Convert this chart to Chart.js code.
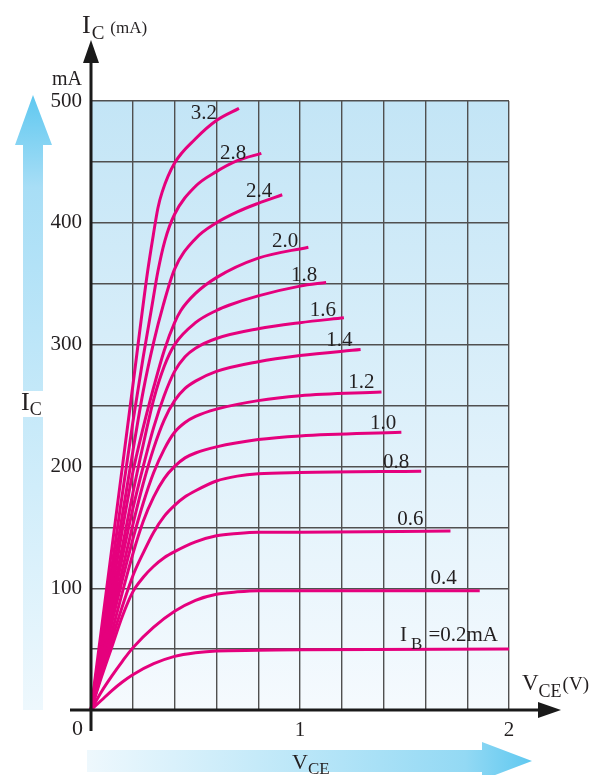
<!DOCTYPE html>
<html><head><meta charset="utf-8">
<script src="https://cdn.jsdelivr.net/npm/chart.js@4/dist/chart.umd.min.js"></script>
<style>html,body{margin:0;padding:0;background:#fff;}canvas{display:block;}</style>
</head><body>
<canvas id="c" width="608" height="775"></canvas>
<script>
// ---- data ----
const ibLabels = ['0.2','0.4','0.6','0.8','1.0','1.2','1.4','1.6','1.8','2.0','2.4','2.8','3.2'];

const vce_02 = [0,0.05,0.1,0.15,0.2,0.3,0.4,0.5,0.6,0.8,1.0,2.0];
const ic_02  = [0,8,16,23,29,38,44,47,48.5,49,49.5,50];
const vce_04 = [0,0.05,0.1,0.15,0.2,0.3,0.4,0.5,0.6,0.7,0.8,1.0,1.86];
const ic_04  = [0,15,28,40,51,68,81,90,95,97,98,98,98];
const vce_06 = [0,0.05,0.1,0.15,0.2,0.25,0.3,0.35,0.4,0.5,0.6,0.7,0.8,1.0,1.72];
const ic_06  = [0,27,52,77,97,109,118,125,130,138,143,145,146,146,147];
const vce_08 = [0,0.1,0.2,0.25,0.3,0.35,0.4,0.45,0.5,0.6,0.7,0.8,1.0,1.58];
const ic_08  = [0,58,110,129,146,159,168,175,180,188,192,194,195,196];
const vce_10 = [0,0.1,0.2,0.25,0.3,0.35,0.4,0.45,0.5,0.6,0.8,1.0,1.485];
const ic_10  = [0,64,128,155,175,190,200,207,211,216,222,225,228];
const vce_12 = [0,0.1,0.2,0.25,0.3,0.35,0.4,0.45,0.5,0.6,0.8,1.0,1.39];
const ic_12  = [0,72,140,170,195,214,228,236,241,247,254,258,261];
const vce_14 = [0,0.1,0.2,0.25,0.3,0.35,0.4,0.45,0.5,0.6,0.8,1.0,1.29];
const ic_14  = [0,78,152,186,215,238,254,264,270,278,286,291,296];
const vce_16 = [0,0.1,0.2,0.25,0.3,0.35,0.4,0.45,0.5,0.6,0.8,1.0,1.21];
const ic_16  = [0,84,165,200,232,258,278,290,297,305,313,318,322];
const vce_18 = [0,0.1,0.2,0.25,0.3,0.35,0.4,0.5,0.6,0.663,0.8,1.0,1.125];
const ic_18  = [0,90,178,218,255,282,300,318,328,332.5,340,348,351];
const vce_20 = [0,0.1,0.2,0.25,0.3,0.35,0.4,0.43,0.5,0.6,0.8,1.04];
const ic_20  = [0,98,195,232,265,295,318,328,342,355,371,380];
const vce_24 = [0,0.1,0.2,0.25,0.3,0.345,0.4,0.5,0.6,0.7,0.8,0.915];
const ic_24  = [0,108,212,262,302,332,362,387,400,409,416,423];
const vce_28 = [0,0.1,0.2,0.25,0.29,0.32,0.353,0.4,0.5,0.6,0.7,0.815];
const ic_28  = [0,118,236,290,330,360,385,407,430,442,451,457];
const vce_32 = [0,0.1,0.2,0.27,0.3,0.32,0.34,0.4,0.5,0.6,0.708];
const ic_32  = [0,133,266,359,392,412,425,449,469,484,494];

const vceSeries = [vce_02,vce_04,vce_06,vce_08,vce_10,vce_12,vce_14,vce_16,vce_18,vce_20,vce_24,vce_28,vce_32];
const icSeries  = [ic_02,ic_04,ic_06,ic_08,ic_10,ic_12,ic_14,ic_16,ic_18,ic_20,ic_24,ic_28,ic_32];

const xTickLabels = ['1','2'];
const yTickLabels = ['100','200','300','400','500'];

// ---- style ----
const labelOffsets = [[-11,-8],[-23,-7],[-27,-6],[-12,-3],[-5,-3],[-7,-4],[-8,-3],[-8,-2],[-9,-1],[-10,0],[-10,2],[-15,6],[-22,11]];
const SERIF = '"Liberation Serif","DejaVu Serif","Times New Roman",serif';
const TXT = '#231f20';
const CURVE = '#e5007d';
function font(s){ return s + 'px ' + SERIF; }
function drawRuns(ctx, x, y, runs, align){
  let w = 0;
  runs.forEach(r => { ctx.font = font(r[1]); w += ctx.measureText(r[0]).width + (r[3]||0); });
  let cx = align === 'right' ? x - w : (align === 'center' ? x - w/2 : x);
  ctx.textAlign = 'left'; ctx.textBaseline = 'alphabetic'; ctx.fillStyle = TXT;
  runs.forEach(r => { ctx.font = font(r[1]); ctx.fillText(r[0], cx, y + r[2]); cx += ctx.measureText(r[0]).width + (r[3]||0); });
  return w;
}

const decor = {
  id: 'decor',
  beforeDraw(chart){
    const {ctx, chartArea: a} = chart;
    ctx.save();
    ctx.fillStyle = '#fff'; ctx.fillRect(0,0,chart.width,chart.height);
    const g = ctx.createLinearGradient(0,a.top,0,a.bottom);
    g.addColorStop(0,'#c3e5f6'); g.addColorStop(1,'#f5fafe');
    ctx.fillStyle = g; ctx.fillRect(a.left,a.top,a.right-a.left,a.bottom-a.top);

    // left vertical arrow
    const lg = ctx.createLinearGradient(0,a.top-6,0,a.bottom);
    lg.addColorStop(0,'#5fc8f0'); lg.addColorStop(0.15,'#a8def6'); lg.addColorStop(1,'#eef8fd');
    ctx.fillStyle = lg;
    ctx.beginPath();
    ctx.moveTo(23,a.bottom); ctx.lineTo(23,a.top+44); ctx.lineTo(15,a.top+44);
    ctx.lineTo(33,a.top-6); ctx.lineTo(52,a.top+44); ctx.lineTo(43,a.top+44); ctx.lineTo(43,a.bottom);
    ctx.closePath(); ctx.fill();

    // bottom horizontal arrow
    const bg = ctx.createLinearGradient(87,0,532,0);
    bg.addColorStop(0,'#eef8fd'); bg.addColorStop(0.85,'#93d9f4'); bg.addColorStop(1,'#5fc8f0');
    ctx.fillStyle = bg;
    ctx.beginPath();
    ctx.moveTo(87,750); ctx.lineTo(482,750); ctx.lineTo(482,742); ctx.lineTo(532,761);
    ctx.lineTo(482,780); ctx.lineTo(482,772); ctx.lineTo(87,772);
    ctx.closePath(); ctx.fill();
    ctx.restore();
  },
  afterDatasetsDraw(chart){
    const {ctx} = chart;
    ctx.save();
    chart.data.datasets.forEach((ds,k) => {
      const meta = chart.getDatasetMeta(k);
      const p = meta.data[meta.data.length-1];
      const x = p.x + labelOffsets[k][0], y = p.y + labelOffsets[k][1];
      if (k === 0) {
        drawRuns(ctx, x, y, [['I',21,0,4],['B',17,8,6],['=0.2mA',21,0]], 'right');
      } else {
        drawRuns(ctx, x, y, [[ibLabels[k],21,0]], 'right');
      }
    });
    ctx.restore();
  },
  afterDraw(chart){
    const {ctx, chartArea: a} = chart;
    ctx.save();
    ctx.fillStyle = '#1a1a1a'; ctx.strokeStyle = '#1a1a1a';
    // x axis
    ctx.lineWidth = 3;
    ctx.beginPath(); ctx.moveTo(70,a.bottom); ctx.lineTo(542,a.bottom); ctx.stroke();
    ctx.beginPath(); ctx.moveTo(538,a.bottom-8); ctx.lineTo(561,a.bottom); ctx.lineTo(538,a.bottom+8); ctx.closePath(); ctx.fill();
    // y axis
    ctx.beginPath(); ctx.moveTo(a.left,731); ctx.lineTo(a.left,60); ctx.stroke();
    ctx.beginPath(); ctx.moveTo(a.left-8,63); ctx.lineTo(a.left,40); ctx.lineTo(a.left+8,63); ctx.closePath(); ctx.fill();

    // texts
    drawRuns(ctx, 82, 33, [['I',26,0,1],['C',19,6,6],['(mA)',17,0]], 'left');
    drawRuns(ctx, 82, 85, [['mA',20,0]], 'right');
    drawRuns(ctx, 83, 735, [['0',22,0]], 'right');
    drawRuns(ctx, 522, 690, [['V',23,0],['CE',18,7,1],['(V)',19,0]], 'left');
    ctx.fillStyle = '#fff'; ctx.fillRect(21,391,24,26);
    drawRuns(ctx, 21, 410, [['I',26,0,0],['C',18,5]], 'left');
    drawRuns(ctx, 292, 769, [['V',22,0],['CE',17,5]], 'left');
    ctx.restore();
  }
};

new Chart(document.getElementById('c'), {
  type: 'scatter',
  data: {
    datasets: vceSeries.map((vs,k) => ({
      label: ibLabels[k],
      data: vs.map((v,j) => ({x: v, y: icSeries[k][j]})),
      showLine: true, borderColor: CURVE, borderWidth: 3, pointRadius: 0,
      fill: false, tension: 0.4, cubicInterpolationMode: 'monotone', borderCapStyle: 'butt', clip: false
    }))
  },
  options: {
    responsive: false, animation: false, devicePixelRatio: 1,
    layout: {padding: {top: 101, right: 99, left: 0, bottom: 0}},
    plugins: {legend: {display: false}, tooltip: {enabled: false}},
    scales: {
      x: {
        type: 'linear', min: 0, max: 2,
        border: {display: false},
        grid: {color: '#505050', lineWidth: 1.4, drawTicks: false},
        ticks: {
          stepSize: 0.2, autoSkip: false, maxRotation: 0, padding: 8, color: TXT,
          font: {family: SERIF, size: 21},
          callback: (v) => Math.abs(v-1) < 1e-6 ? xTickLabels[0] : (Math.abs(v-2) < 1e-6 ? xTickLabels[1] : '')
        },
        afterFit: (s) => { s.height = 65; }
      },
      y: {
        type: 'linear', min: 0, max: 500,
        border: {display: false},
        grid: {color: '#505050', lineWidth: 1.4, drawTicks: false},
        ticks: {
          stepSize: 50, autoSkip: false, padding: 9, color: TXT,
          font: {family: SERIF, size: 21},
          callback: (v) => { const i = yTickLabels.indexOf(String(Math.round(v))); return (v % 100 === 0 && i >= 0) ? yTickLabels[i] : ''; }
        },
        afterFit: (s) => { s.width = 91; }
      }
    }
  },
  plugins: [decor]
});
</script>
</body></html>
